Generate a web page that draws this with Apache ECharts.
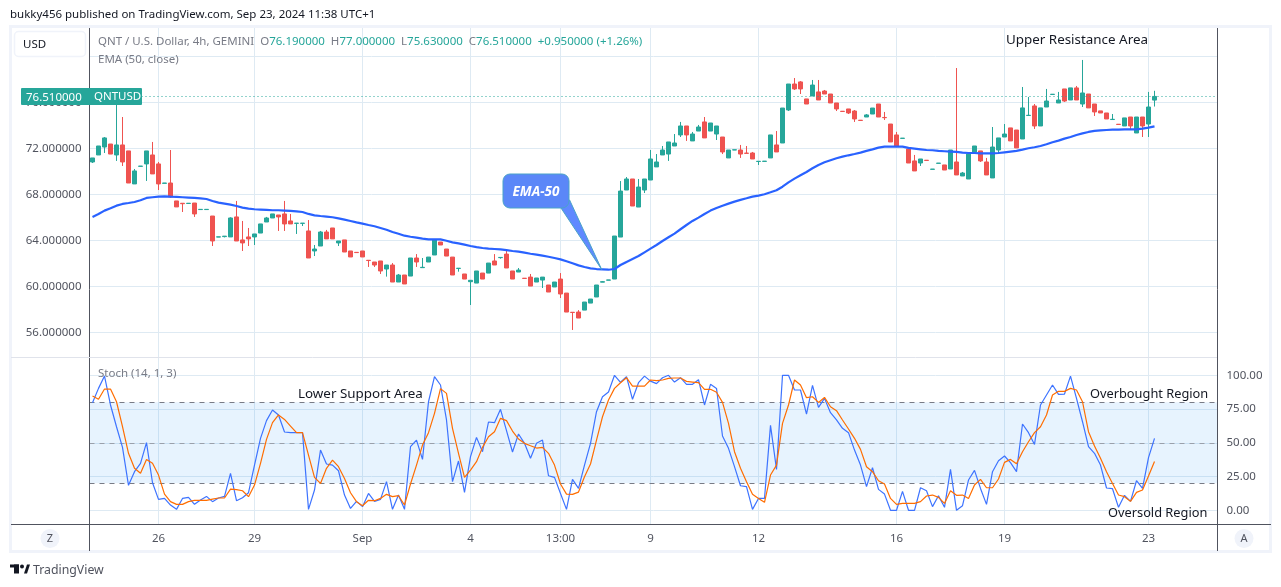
<!DOCTYPE html>
<html>
<head>
<meta charset="utf-8">
<style>html,body{margin:0;padding:0;background:#fff}#chart{width:1281px;height:587px}</style>
<script src="https://cdn.jsdelivr.net/npm/echarts@6/dist/echarts.min.js"></script>
</head>
<body>
<div id="chart"></div>
<script>
// candles
var opens = [70.81,71.42,72.11,72.37,71.42,72.29,71.77,68.9,70.43,70.64,71.42,70.64,68.95,68.98,67.42,67.22,67.2,67.24,66.67,66.67,66.11,64.28,64.32,64.29,66.03,64.03,64.29,64.29,64.63,65.59,65.94,66.2,66.29,65.68,65.47,65.47,64.81,63.07,63.5,64.72,65.07,63.77,64.03,63.07,62.95,63.07,62.26,62.11,62.2,61.5,61.85,60.37,60.98,60.89,62.46,61.62,62.11,62.72,63.85,63.24,62.54,61.55,61.07,60.4,60.28,61.15,61.15,62.2,62.49,62.8,61.33,61.24,60.7,60.8,60.37,60.54,60.11,59.94,60.63,59.41,57.74,57.76,57.93,58.54,59.07,60.36,60.53,60.63,64.28,68.37,69.33,66.89,68.37,69.24,70.38,71.42,71.5,72.2,73.16,73.94,72.64,73.5,74.29,73.5,73.24,72.98,71.16,71.85,71.85,71.58,71.59,70.85,70.86,71.16,72.29,72.46,75.33,77.59,77.77,76.29,76.55,76.9,76.98,76.72,75.94,75.22,75.42,75.24,74.44,74.72,74.98,75.85,74.68,74.11,73.16,72.86,71.94,70.9,70.72,70.96,70.17,70.69,70.55,70.2,70.81,69.59,69.33,71.68,71.77,70.81,69.42,71.85,72.98,73.77,73.59,72.81,74.85,75.68,73.94,75.59,76.68,75.94,77.16,76.2,77.25,75.85,76.72,75.85,75.25,75.07,74.5,74.09,73.94,74.72,73.33,74.72,74.11,76.19];
var highs = [71.16,72.2,72.98,72.37,76.6,74.72,71.77,70.2,70.45,71.77,72.55,70.81,68.98,71.85,67.42,67.22,67.22,67.24,66.69,66.69,66.11,64.3,64.36,66.0,67.42,65.68,65.07,64.55,65.42,66.03,66.29,66.2,67.42,66.29,65.49,65.49,65.76,63.59,64.81,64.9,65.07,63.94,64.03,63.07,62.95,63.07,62.26,62.11,62.2,61.85,62.02,61.07,60.98,62.46,62.8,62.46,62.54,64.02,63.85,63.24,62.54,61.57,61.07,60.52,61.33,61.15,62.02,62.8,62.51,63.07,61.33,61.59,60.7,61.07,60.72,60.8,60.11,60.37,61.15,59.41,57.74,57.93,58.63,58.89,60.11,60.46,60.55,64.37,69.15,69.5,69.33,69.33,69.33,71.85,71.5,72.2,72.55,73.24,74.29,73.94,73.42,74.03,74.72,74.2,73.94,72.98,71.85,71.87,72.29,72.2,71.68,70.87,70.88,73.16,73.5,75.5,77.59,78.11,77.85,76.29,77.94,77.94,77.07,76.72,75.94,75.22,75.42,75.33,74.44,74.98,75.5,75.85,75.16,74.11,73.42,72.88,71.94,71.42,71.07,70.96,70.19,70.71,70.55,71.85,78.98,69.94,71.5,72.2,71.77,71.16,73.85,72.9,74.11,73.77,73.59,77.33,76.46,75.85,75.51,77.16,76.7,76.9,77.16,77.25,77.42,79.68,76.72,75.85,75.25,75.07,74.98,74.09,74.64,74.72,74.72,74.72,76.9,77.0];
var lows = [70.72,71.42,71.59,71.5,70.9,70.46,68.98,68.9,70.43,69.16,69.77,68.37,68.95,67.68,66.9,66.46,67.2,66.03,66.67,66.67,63.5,64.28,64.25,64.29,63.94,63.07,63.5,63.59,64.63,65.59,65.94,64.81,64.81,65.42,64.55,65.24,62.46,62.63,63.5,64.12,64.12,63.5,62.98,62.55,62.93,62.55,61.68,61.68,61.07,60.84,60.37,60.37,60.2,60.89,61.68,61.62,62.11,62.72,63.59,62.63,60.98,61.27,60.63,58.37,60.28,60.63,61.15,61.85,62.4,61.59,60.63,61.24,60.68,60.02,60.37,59.85,59.5,59.94,58.98,57.76,56.2,57.24,57.93,58.54,59.07,60.36,60.53,60.63,64.28,68.37,66.98,66.89,68.11,69.24,70.38,71.42,70.9,72.2,72.98,72.64,72.64,73.5,72.9,73.5,72.72,71.5,71.16,71.85,71.16,71.56,71.07,70.55,70.86,71.16,71.68,72.46,75.24,77.07,76.72,75.85,76.55,76.2,76.72,75.94,75.24,75.2,74.98,74.29,74.42,74.72,74.98,74.72,74.46,72.55,72.2,72.86,70.72,70.03,70.46,70.94,70.17,70.69,70.11,70.2,69.68,69.59,69.33,71.68,70.81,69.68,69.42,71.5,72.98,72.64,72.03,72.81,74.85,73.68,73.94,75.59,76.68,75.94,76.03,76.2,76.2,75.59,75.51,74.81,75.07,74.55,74.5,74.07,73.94,73.68,73.33,72.98,72.98,75.63];
var closes = [71.16,72.2,72.9,71.5,72.29,70.81,68.98,70.03,70.45,71.77,69.77,68.9,68.98,67.76,66.9,67.18,67.22,66.29,66.69,66.69,63.94,64.3,64.36,65.94,63.94,63.77,64.12,64.55,65.42,65.94,66.29,66.03,65.42,65.42,65.49,65.49,62.46,63.24,64.72,64.12,64.12,63.94,62.98,62.55,62.93,62.55,62.24,61.85,61.33,61.85,60.37,60.98,60.2,62.46,62.11,61.65,62.54,64.02,63.59,62.63,60.98,61.57,60.63,60.52,61.33,60.63,62.02,61.85,62.51,61.59,60.63,61.41,60.68,60.02,60.72,60.8,59.5,60.37,59.33,57.76,57.72,57.24,58.63,58.89,60.11,60.4,60.55,64.37,68.28,69.33,66.98,68.63,69.33,71.07,70.81,71.85,72.55,72.46,73.94,73.16,73.24,73.85,72.9,74.2,73.94,71.68,71.85,71.87,71.5,71.56,71.07,70.87,70.88,73.16,71.68,75.5,77.59,77.16,77.16,75.85,77.5,76.2,76.72,75.94,75.42,75.2,75.07,74.55,74.42,74.9,75.5,74.72,74.66,72.55,72.2,72.88,70.72,70.03,71.07,70.94,70.19,70.71,70.11,71.85,69.68,69.85,71.5,72.2,70.9,69.68,72.11,72.9,73.24,72.64,72.03,75.51,74.87,73.94,75.51,76.11,76.7,76.2,76.11,77.25,76.2,76.81,75.51,75.16,75.07,74.55,74.52,74.07,74.64,73.94,74.72,73.94,75.59,76.51];

var ema50 = [66.03,66.29,66.58,66.78,67.01,67.16,67.24,67.33,67.48,67.68,67.74,67.79,67.82,67.79,67.77,67.74,67.71,67.68,67.65,67.59,67.42,67.27,67.19,67.1,66.98,66.84,66.75,66.7,66.67,66.64,66.61,66.61,66.58,66.55,66.52,66.46,66.29,66.17,66.11,66.06,66.0,65.91,65.8,65.68,65.56,65.45,65.33,65.22,65.07,64.92,64.72,64.57,64.4,64.31,64.23,64.14,64.08,64.08,64.08,63.96,63.82,63.73,63.62,63.5,63.41,63.33,63.27,63.24,63.21,63.15,63.07,63.01,62.92,62.83,62.75,62.66,62.57,62.46,62.34,62.17,62.0,61.82,61.68,61.56,61.5,61.47,61.44,61.5,61.85,62.12,62.38,62.63,62.95,63.27,63.59,63.94,64.26,64.58,64.96,65.33,65.68,65.97,66.29,66.58,66.81,67.01,67.19,67.36,67.51,67.65,67.8,67.88,68.0,68.17,68.35,68.66,69.04,69.36,69.65,69.94,70.26,70.55,70.78,70.96,71.13,71.27,71.39,71.5,71.62,71.77,71.91,72.06,72.14,72.14,72.14,72.14,72.03,71.97,71.91,71.85,71.83,71.77,71.74,71.71,71.68,71.62,71.59,71.59,71.56,71.56,71.56,71.59,71.65,71.71,71.77,71.88,72.0,72.09,72.2,72.35,72.52,72.67,72.84,72.98,73.16,73.3,73.42,73.51,73.56,73.59,73.62,73.62,73.65,73.65,73.65,73.71,73.8,73.91];

var stochK = [79.7,90.3,99.4,78.0,61.9,46.6,18.5,28.6,34.8,50.1,20.4,8.1,8.8,3.9,0.7,8.8,9.6,4.4,7.6,10.3,6.4,9.1,10.3,27.4,7.1,9.3,13.0,33.5,53.3,66.4,74.3,70.6,58.0,57.5,57.5,57.5,0.7,15.0,44.6,34.3,33.5,29.3,11.3,1.4,6.6,2.7,12.5,6.6,8.1,21.2,0.7,11.3,0.7,47.1,52.0,37.7,80.4,99.0,92.8,66.9,21.2,36.5,13.3,39.7,54.0,43.4,65.4,64.9,74.8,59.0,43.2,56.5,49.6,38.5,49.6,52.0,25.6,24.4,12.5,0.7,22.9,16.2,33.5,49.6,73.0,84.1,87.6,100,94.8,99.0,82.2,94.5,99.4,95.7,93.8,98.2,100,95.0,98.2,93.3,93.3,96.7,78.0,93.3,90.3,55.0,45.9,32.3,18.2,17.5,0.7,8.8,8.8,62.9,30.3,100,100,89.1,89.1,71.3,92.5,76.2,82.9,72.3,66.9,60.7,57.5,44.6,33.5,17.5,31.5,15.5,12.0,0,0,14.0,0,0,16.7,14.5,2.7,10.8,2.2,30.3,0,3.4,22.4,29.6,16.2,4.4,28.6,36.7,40.2,35.3,28.6,63.9,57.5,48.8,78.0,85.4,92.8,85.9,86.1,99.4,82.9,65.6,47.1,42.2,33.5,16.5,16.0,2.2,11.1,6.6,21.9,16.2,39.0,53.3];
var stochD = [84.6,82.2,89.8,89.8,80.4,61.9,42.2,31.1,27.4,37.7,34.8,26.1,12.0,6.4,4.4,4.4,6.4,7.4,7.4,7.4,8.3,9.1,9.1,15.7,15.3,14.5,10.1,18.7,34.8,52.5,64.9,70.6,67.3,62.4,57.5,57.5,40.9,24.4,19.9,31.1,37.2,32.3,23.6,13.0,6.4,3.4,7.4,7.1,8.8,11.8,10.1,10.8,3.9,19.5,33.5,48.3,57.5,71.8,90.1,86.6,60.7,42.2,24.4,29.8,36.0,46.6,54.5,58.2,68.1,66.4,58.7,52.8,49.6,47.8,46.1,46.6,42.2,33.5,19.5,12.0,11.8,13.5,24.9,34.3,52.0,69.3,81.7,90.3,94.5,98.2,92.0,92.0,92.0,96.5,96.0,96.5,97.7,98.0,98.0,95.5,95.0,94.5,89.6,89.6,87.4,79.9,64.4,43.4,31.1,21.2,11.8,8.8,5.9,26.1,33.5,64.4,78.0,96.5,92.8,83.4,84.1,79.9,83.6,76.7,73.8,66.9,60.2,53.3,45.1,32.3,28.6,21.9,19.5,8.8,4.4,5.1,5.1,5.1,6.4,10.6,11.3,9.6,5.1,14.5,11.1,11.3,8.8,18.7,22.9,16.7,16.7,23.2,35.5,37.7,34.5,43.4,50.8,57.5,61.9,70.6,85.4,88.1,88.1,90.3,89.1,80.4,58.2,47.6,38.5,28.6,19.9,11.3,10.1,6.6,13.3,15.0,25.4,36.2];

// time axis
var slots = 188;
var tickIndex = [11,27,45,63,78,93,111,134,152,176];
var tickLabels = ['26','29','Sep','4','13:00','9','12','16','19','23'];
var priceTicks = [56,60,64,68,72,76];
var priceLines = [56,60,64,68,72,76,80];
var stochTicks = [0,25,50,75,100];

var fontName = '"Noto Sans", sans-serif';
var gridColor = '#deeaf3';
var axisText = '#50535e';
var frameColor = '#50535e';
var upColor = '#26a69a';
var downColor = '#ef5350';

var categories = [];
for (var i = 0; i < slots; i++) categories.push('');
tickIndex.forEach(function (idx, n) { categories[idx] = tickLabels[n]; });

var candles = [];
for (var c = 0; c < opens.length; c++) {
    candles.push([opens[c], closes[c], lows[c], highs[c]]);
}

function hasLabel(i, v) { return v !== ''; }

function text(x, y, str, size, color, extra) {
    var style = { x: x, y: y, text: str, fontSize: size, fill: color, fontFamily: fontName, textVerticalAlign: 'middle' };
    for (var k in extra) style[k] = extra[k];
    return { type: 'text', z: 20, silent: true, style: style };
}
function line(x1, y1, x2, y2, color) {
    return { type: 'line', z: 15, silent: true, shape: { x1: x1, y1: y1, x2: x2, y2: y2 }, style: { stroke: color, lineWidth: 1 } };
}

var overlay = [
    { type: 'rect', z: 1, silent: true, shape: { x: 10.5, y: 26.5, width: 1260, height: 525 }, style: { fill: 'none', stroke: '#f0f3fa', lineWidth: 3 } },
    line(89.5, 28, 89.5, 551, frameColor),
    line(1217.5, 28, 1217.5, 551, frameColor),
    line(11, 524.5, 1271, 524.5, frameColor),
    line(11, 357.5, 1217, 357.5, '#e0e3eb'),
    text(10, 15, 'bukky456 published on TradingView.com, Sep 23, 2024 11:38 UTC+1', 11.5, '#131722'),
    // USD button
    { type: 'rect', z: 15, silent: true, shape: { x: 14.5, y: 31.5, width: 71, height: 25, r: 4 }, style: { fill: '#fff', stroke: '#f0f3fa', lineWidth: 1.5 } },
    text(23, 45, 'USD', 11.5, '#131722'),
    // legend rows
    {
        type: 'text', z: 20, silent: true,
        style: {
            x: 98, y: 42, textVerticalAlign: 'middle', fontFamily: fontName, fontSize: 11.5, fill: '#787b86',
            rich: {
                g: { fill: '#787b86', fontSize: 11.5, fontFamily: fontName },
                v: { fill: upColor, fontSize: 11.5, fontFamily: fontName }
            },
            text: '{g|QNT / U.S. Dollar, 4h, GEMINI}  {g|O}{v|76.190000}  {g|H}{v|77.000000}  {g|L}{v|75.630000}  {g|C}{v|76.510000}  {v|+0.950000 (+1.26%)}'
        }
    },
    text(98, 60, 'EMA (50, close)', 11.5, '#787b86'),
    text(98, 374, 'Stoch (14, 1, 3)', 11.5, '#787b86'),
    // last price tag
    { type: 'rect', z: 18, silent: true, shape: { x: 21, y: 88, width: 121, height: 17, r: 1 }, style: { fill: upColor } },
    line(89.5, 88, 89.5, 105, frameColor),
    text(26, 98, '76.510000', 11.5, '#fff'),
    text(94, 97, 'QNTUSD', 11.5, '#fff'),
    // EMA-50 callout
    {
        type: 'polygon', z: 12, silent: true,
        shape: { points: [[561, 208], [569.6, 200], [601.7, 269.5]] },
        style: { fill: 'rgba(41,98,255,0.75)', stroke: '#4aa3c8', lineWidth: 1 }
    },
    { type: 'rect', z: 13, silent: true, shape: { x: 503, y: 174, width: 66, height: 34, r: 7 }, style: { fill: '#5b87f8', stroke: '#4aa3c8', lineWidth: 1 } },
    text(536, 192, 'EMA-50', 13.5, '#fff', { textAlign: 'center', fontStyle: 'italic', fontWeight: 'bold' }),
    // hand written notes on the chart
    text(1006, 40, 'Upper Resistance Area', 13.4, '#131722'),
    text(298, 394, 'Lower Support Area', 13.4, '#131722'),
    text(1090, 394, 'Overbought Region', 12.8, '#131722'),
    text(1108, 513, 'Oversold Region', 12.8, '#131722'),
    // scale buttons
    { type: 'circle', z: 15, silent: true, shape: { cx: 50, cy: 538.5, r: 9.5 }, style: { fill: '#f0f3fa' } },
    text(50, 539, 'Z', 11, '#50535e', { textAlign: 'center' }),
    { type: 'circle', z: 15, silent: true, shape: { cx: 1244, cy: 538.5, r: 9.5 }, style: { fill: '#f0f3fa' } },
    text(1244, 539, 'A', 11, '#50535e', { textAlign: 'center' }),
    // footer logo
    { type: 'rect', z: 15, silent: true, shape: { x: 10, y: 564.5, width: 9, height: 3 }, style: { fill: '#131722' } },
    { type: 'rect', z: 15, silent: true, shape: { x: 14, y: 564.5, width: 5, height: 9 }, style: { fill: '#131722' } },
    { type: 'circle', z: 15, silent: true, shape: { cx: 22, cy: 566.5, r: 2 }, style: { fill: '#131722' } },
    { type: 'polygon', z: 15, silent: true, shape: { points: [[24, 573.5], [27, 564.5], [30, 564.5], [27, 573.5]] }, style: { fill: '#131722' } },
    text(33, 570, 'TradingView', 12.3, '#50535e')
];

var chart = echarts.init(document.getElementById('chart'), null, { renderer: 'canvas' });
chart.setOption({
    animation: false,
    backgroundColor: '#ffffff',
    textStyle: { fontFamily: fontName },
    grid: [
        { left: 89.5, width: 1128, top: 28, height: 329 },
        { left: 89.5, width: 1128, top: 358, height: 166 }
    ],
    xAxis: [
        {
            type: 'category', gridIndex: 0, data: categories,
            axisLine: { show: false }, axisTick: { show: false }, axisLabel: { show: false },
            splitLine: { show: true, alignWithLabel: true, interval: hasLabel, lineStyle: { color: gridColor, width: 1 } }
        },
        {
            type: 'category', gridIndex: 1, data: categories,
            axisLine: { show: false }, axisTick: { show: false },
            axisLabel: { interval: hasLabel, color: axisText, fontSize: 11.5, margin: 9, fontFamily: fontName },
            splitLine: { show: true, alignWithLabel: true, interval: hasLabel, lineStyle: { color: gridColor, width: 1 } }
        }
    ],
    yAxis: [
        {
            type: 'value', gridIndex: 0, position: 'left', min: 53.85, max: 82.46,
            axisLine: { show: false },
            axisTick: { show: false, customValues: priceLines },
            axisLabel: {
                customValues: priceTicks, color: axisText, fontSize: 11.5, margin: 8, fontFamily: fontName,
                formatter: function (v) { return v.toFixed(6); }
            },
            splitLine: { show: true, lineStyle: { color: gridColor, width: 1 } }
        },
        {
            type: 'value', gridIndex: 1, position: 'right', min: -10.15, max: 112.8,
            axisLine: { show: false },
            axisTick: { show: false, customValues: stochTicks },
            axisLabel: {
                customValues: stochTicks, color: axisText, fontSize: 11.5, margin: 9, fontFamily: fontName,
                formatter: function (v) { return v.toFixed(2); }
            },
            splitLine: { show: true, lineStyle: { color: gridColor, width: 1 } }
        }
    ],
    series: [
        {
            name: 'QNTUSD', type: 'candlestick', xAxisIndex: 0, yAxisIndex: 0, data: candles, barWidth: 5,
            itemStyle: { color: upColor, color0: downColor, borderColor: upColor, borderColor0: downColor, borderWidth: 1 },
            markLine: {
                silent: true, symbol: 'none', label: { show: false }, animation: false,
                lineStyle: { color: upColor, type: [1, 3], width: 1 },
                data: [{ yAxis: closes[closes.length - 1] }]
            }
        },
        {
            name: 'EMA', type: 'line', xAxisIndex: 0, yAxisIndex: 0, data: ema50, showSymbol: false, z: 5,
            lineStyle: { color: '#2962ff', width: 2.2 }
        },
        {
            name: '%K', type: 'line', xAxisIndex: 1, yAxisIndex: 1, data: stochK, showSymbol: false, z: 5,
            lineStyle: { color: '#3d73ff', width: 1.2 },
            markArea: {
                silent: true, itemStyle: { color: 'rgba(33,150,243,0.11)' },
                data: [[{ yAxis: 20 }, { yAxis: 80 }]]
            },
            markLine: {
                silent: true, symbol: 'none', label: { show: false }, animation: false,
                lineStyle: { color: '#787b86', type: [5, 5], width: 1 },
                data: [{ yAxis: 80 }, { yAxis: 50, lineStyle: { color: '#9aa0ab', type: [5, 5], width: 1 } }, { yAxis: 20 }]
            }
        },
        {
            name: '%D', type: 'line', xAxisIndex: 1, yAxisIndex: 1, data: stochD, showSymbol: false, z: 6,
            lineStyle: { color: '#ff6d00', width: 1.2 }
        }
    ],
    graphic: overlay
});
</script>
</body>
</html>
